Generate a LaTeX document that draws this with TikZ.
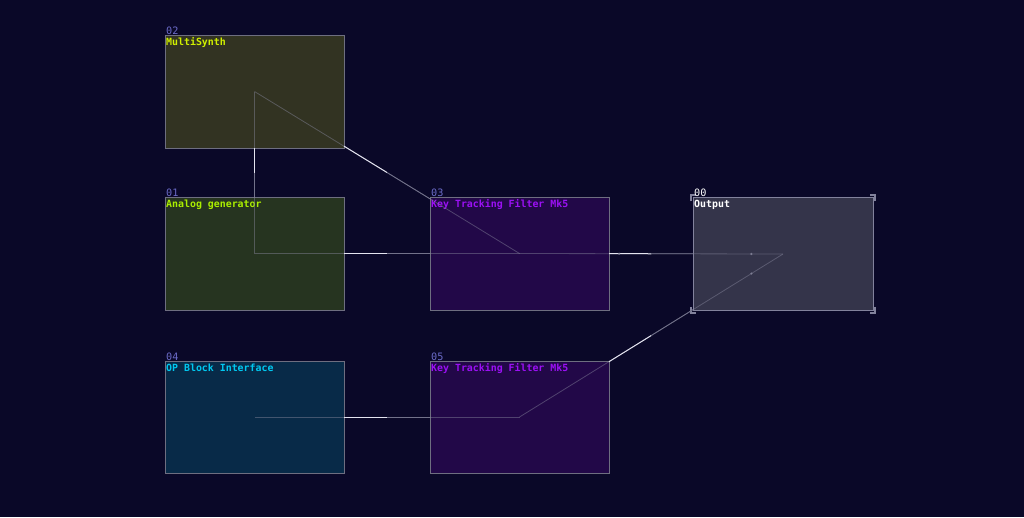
\documentclass[tikz,border=0pt]{standalone}
\usepackage{fontspec}
\setmonofont{DejaVu Sans Mono}
\usetikzlibrary{calc}
\definecolor{bg}{HTML}{0A0828}
\definecolor{numc}{HTML}{6B6BC8}
\definecolor{cms}{HTML}{D0F000}
\definecolor{can}{HTML}{AAEE00}
\definecolor{ckt}{HTML}{9B10F4}
\definecolor{cop}{HTML}{00C8F0}
\definecolor{f02}{HTML}{323322}
\definecolor{f01}{HTML}{263420}
\definecolor{f03}{HTML}{220848}
\definecolor{f04}{HTML}{082A48}
\definecolor{f00}{HTML}{34344A}
\definecolor{bord}{HTML}{6E6E80}
\definecolor{bordo}{HTML}{82829C}
\definecolor{wdimc}{HTML}{8A8AA0}
\definecolor{wmidc}{HTML}{72728A}
\definecolor{wbrc}{HTML}{E4E4F0}
\tikzset{
  modbox/.style={draw=bord, line width=1pt, minimum width=179pt, minimum height=113pt, inner sep=0pt, outer sep=0pt},
  numlbl/.style={font=\ttfamily\fontsize{10.2}{11}\selectfont, text=numc, inner sep=0pt, anchor=base west},
  ttl/.style={font=\ttfamily\bfseries\fontsize{9.9}{11}\selectfont, inner sep=0pt, anchor=base west},
  wdim/.style={draw=wdimc, opacity=0.45, line width=0.8pt},
  wmid/.style={draw=wmidc, line width=0.8pt},
  wbright/.style={draw=wbrc, line width=1pt},
  brk/.style={draw=bordo, line width=1.6pt},
  wdot/.style={fill=wdimc, opacity=0.8}
}
\newcommand\wire[2]{%
  \draw[wdim] (#1.center) -- (#2.center);
  \draw[wbright] (#1) -- ($(#1)!0.5!(#2)$);
  \draw[wmid] ($(#1)!0.5!(#2)$) -- (#2);}
\begin{document}
\begin{tikzpicture}[x=1pt,y=-1pt]
\fill[bg] (0,0) rectangle (1024,517);
\useasboundingbox (0,0) rectangle (1024,517);
% boxes
\node[modbox, fill=f02] (m02) at (254.5,91.5) {};
\node[modbox, fill=f01] (m01) at (254.5,253.5) {};
\node[modbox, fill=f03] (m03) at (519.5,253.5) {};
\node[modbox, fill=f00, draw=bordo, minimum width=180pt, minimum height=113.5pt] (m00) at (783,254) {};
\node[modbox, fill=f04, minimum height=112pt] (m04) at (254.5,417) {};
\node[modbox, fill=f03, minimum height=112pt] (m05) at (519.5,417) {};
% output corner brackets
\draw[brk] ($(m00.north west)+(-2,4)$) -- ++(0,-6) -- ++(5,0);
\draw[brk] ($(m00.north east)+(2,4)$) -- ++(0,-6) -- ++(-5,0);
\draw[brk] ($(m00.south west)+(-2,-4)$) -- ++(0,6) -- ++(5,0);
\draw[brk] ($(m00.south east)+(2,-4)$) -- ++(0,6) -- ++(-5,0);
% labels
\foreach \m/\n/\t/\c in {m02/02/MultiSynth/cms, m01/01/Analog generator/can, m03/03/Key Tracking Filter Mk5/ckt, m04/04/OP Block Interface/cop, m05/05/Key Tracking Filter Mk5/ckt}{
  \node[numlbl] (n\m) at ($(\m.north west)+(1,-1)$) {\n};
  \node[ttl, text=\c] (t\m) at ($(\m.north west)+(1,10)$) {\t};
}
\node[numlbl, text=white] (nm00) at ($(m00.north west)+(1,-1)$) {00};
\node[ttl, text=white] (tm00) at ($(m00.north west)+(1,10)$) {Output};
% wires
\wire{m02}{m01}
\wire{m02}{m03}
\wire{m01}{m03}
\wire{m03}{m00}
\wire{m04}{m05}
\wire{m05}{m00}
% dots
\fill[wdot] ($(m03.center)!0.378!(m00.center)$) circle (1.2);
\fill[wdot] ($(m03.center)!0.88!(m00.center)$) circle (1.2);
\fill[wdot] ($(m05.center)!0.88!(m00.center)$) circle (1.2);
\end{tikzpicture}
\end{document}
